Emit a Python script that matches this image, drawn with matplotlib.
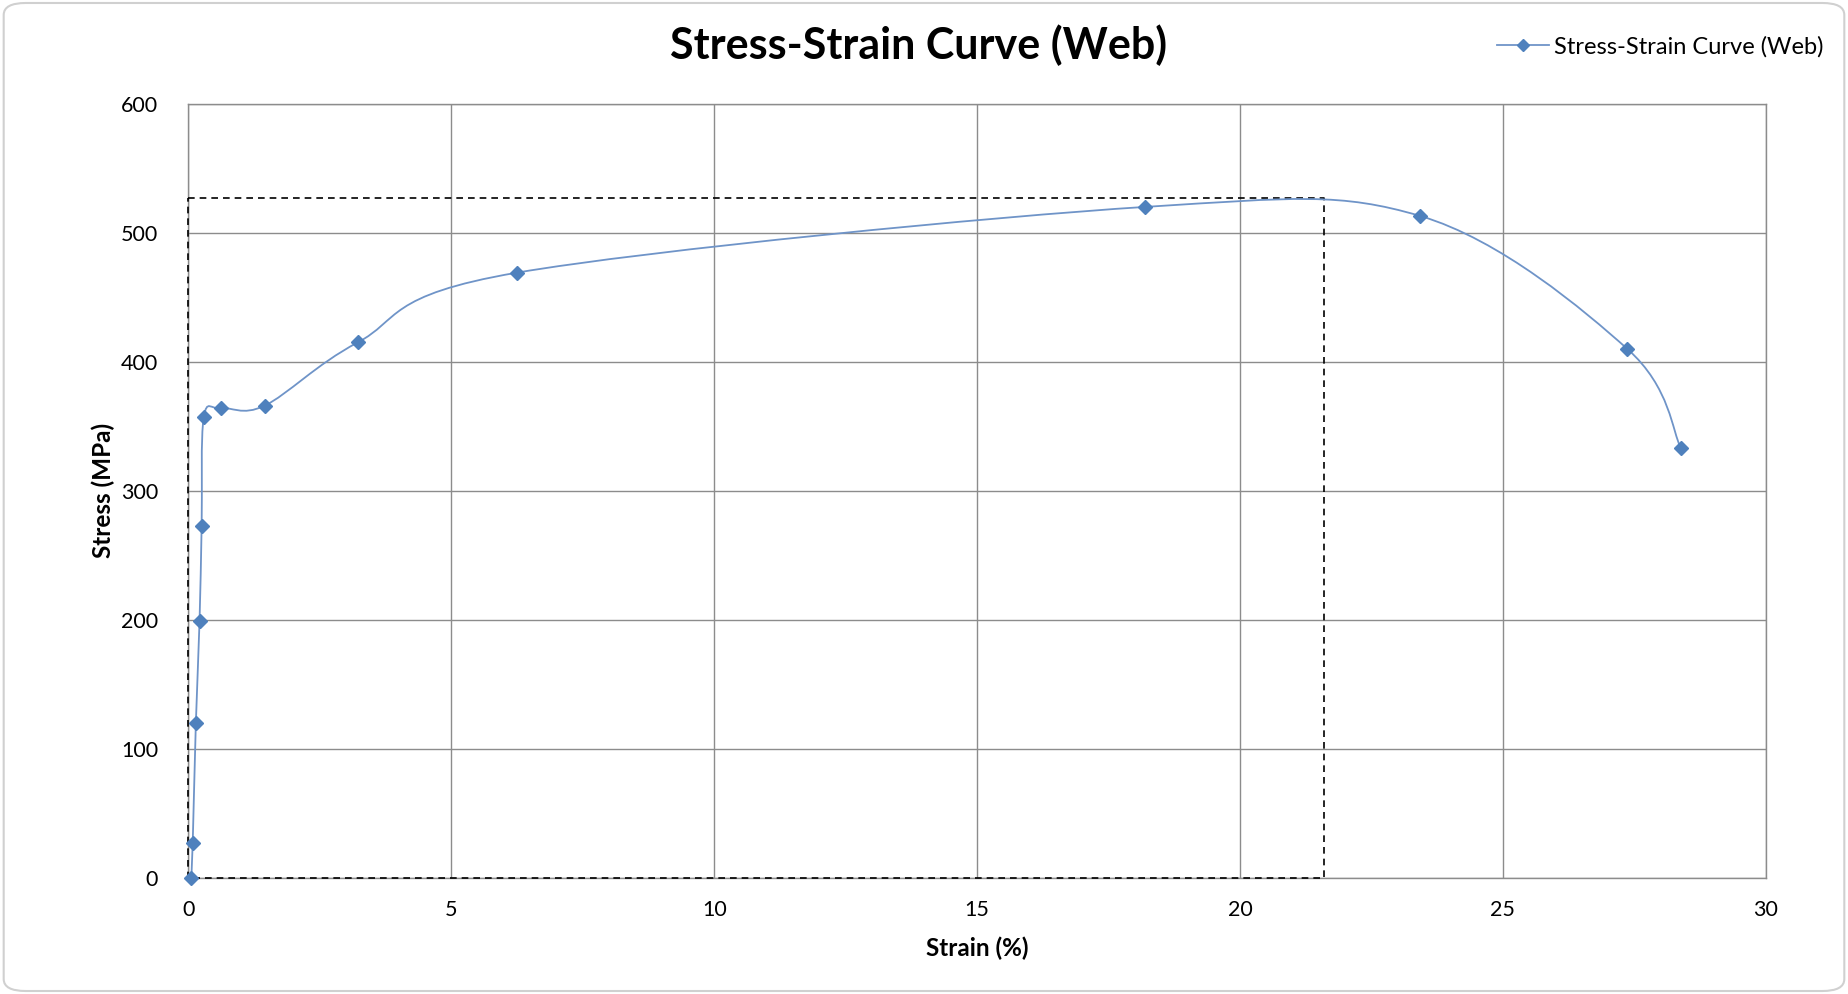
import matplotlib
matplotlib.use("Agg")
import matplotlib.pyplot as plt
from matplotlib.path import Path
from matplotlib.patches import PathPatch, FancyBboxPatch
from matplotlib.lines import Line2D

# data
strain = [0.05, 0.08, 0.14, 0.21, 0.25, 0.29, 0.62, 1.45, 3.22, 6.24, 18.2, 23.43, 27.37, 28.39]
stress = [0, 27, 120, 199, 273, 357, 364, 366, 415, 469, 520, 513, 410, 333]
uts_strain = 21.6
uts_stress = 527

x_ticks = [0, 5, 10, 15, 20, 25, 30]
y_ticks = [0, 100, 200, 300, 400, 500, 600]

title = "Stress-Strain Curve (Web)"
series_name = "Stress-Strain Curve (Web)"

blue = "#4F81BD"
line_blue = "#6F94C8"
grid_grey = "#8C8C8C"

plt.rcParams['font.family'] = ['Lato', 'DejaVu Sans']

fig = plt.figure(figsize=(18.48, 9.94), dpi=100)
ax = fig.add_axes([0.1020, 0.1167, 0.8534, 0.7790])

# smoothed line like Excel (Catmull-Rom as cubic Bezier segments)
verts = [(strain[0], stress[0])]
codes = [Path.MOVETO]
n = len(strain)
for i in range(n - 1):
    p0 = (strain[max(i - 1, 0)], stress[max(i - 1, 0)])
    p1 = (strain[i], stress[i])
    p2 = (strain[i + 1], stress[i + 1])
    p3 = (strain[min(i + 2, n - 1)], stress[min(i + 2, n - 1)])
    c1 = (p1[0] + (p2[0] - p0[0]) / 6, p1[1] + (p2[1] - p0[1]) / 6)
    c2 = (p2[0] - (p3[0] - p1[0]) / 6, p2[1] - (p3[1] - p1[1]) / 6)
    verts += [c1, c2, p2]
    codes += [Path.CURVE4] * 3
curve = PathPatch(Path(verts, codes), facecolor='none', edgecolor=line_blue,
                  lw=1.3, zorder=4, clip_on=False)
ax.add_patch(curve)
ax.plot(strain, stress, linestyle='none', marker='D', markersize=7,
        color=blue, zorder=5, clip_on=False)

# dashed box to the ultimate strength point
ax.plot([0, uts_strain, uts_strain, 0, 0], [uts_stress, uts_stress, 0, 0, uts_stress],
        color='black', lw=1.2, dashes=(4, 3), zorder=3, clip_on=False)

ax.set_xlim(0, 30)
ax.set_ylim(0, 600)
ax.set_xticks(x_ticks)
ax.set_yticks(y_ticks)
ax.grid(True, color=grid_grey, lw=1.0, zorder=1)
ax.set_axisbelow(True)
for s in ax.spines.values():
    s.set_color(grid_grey)
    s.set_linewidth(1.0)
ax.tick_params(length=0, labelsize=15.5, colors='black')
ax.tick_params(axis='y', pad=22)
ax.tick_params(axis='x', pad=16)

ax.set_xlabel("Strain (%)", fontsize=17.5, fontweight='bold', labelpad=12)
ax.set_ylabel("Stress (MPa)", fontsize=17.5, fontweight='bold', labelpad=4)

fig.text(0.497, 0.955, title, ha='center', va='center', fontsize=31, fontweight='bold')

handle = Line2D([], [], color=line_blue, lw=1.3, marker='D', markersize=6,
                markerfacecolor=blue, markeredgecolor=blue)
fig.legend([handle], [series_name], loc='center right', bbox_to_anchor=(0.998, 0.953),
           frameon=False, fontsize=17, handlelength=2.2, handletextpad=0.2)

# light rounded border around the chart area
border = FancyBboxPatch((0.002, 0.003), 0.996, 0.994, boxstyle="round,pad=0,rounding_size=0.012",
                        transform=fig.transFigure, facecolor='none', edgecolor='#D0D0D0',
                        lw=1.5, zorder=0)
fig.patches.append(border)

fig.savefig("out.png", dpi=100)
